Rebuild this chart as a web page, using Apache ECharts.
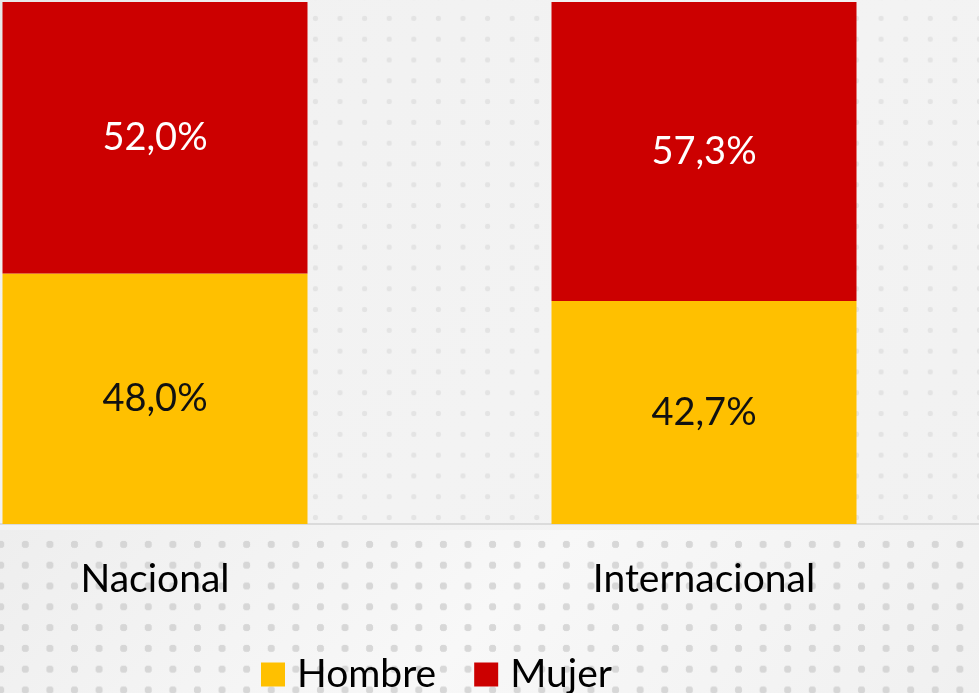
<!DOCTYPE html>
<html>
<head>
<meta charset="utf-8">
<script src="https://cdn.jsdelivr.net/npm/echarts@6/dist/echarts.min.js"></script>
<style>
  html, body { margin: 0; padding: 0; }
  body {
    width: 979px; height: 693px; overflow: hidden; position: relative;
    background-color: #f1f1f1;
  }
  #bg1 {
    position: absolute; left: 0; top: 0; width: 979px; height: 530px;
    background-image: radial-gradient(circle, rgba(200,200,200,0.35) 2.5px, rgba(0,0,0,0) 3px),
      linear-gradient(135deg, rgba(230,230,230,0.9) 0%, rgba(242,242,242,0.6) 20%, rgba(246,246,246,0.4) 60%, rgba(242,242,242,0.5) 100%);
    background-size: 24.6px 20.8px, 100% 100%;
    background-position: 8px 8px, 0 0;
  }
  #bg2 {
    position: absolute; left: 0; top: 530px; width: 979px; height: 163px;
    background-image: radial-gradient(circle, rgba(205,205,205,0.75) 3.5px, rgba(0,0,0,0) 4px),
      linear-gradient(135deg, rgba(238,238,238,1) 0%, rgba(248,248,248,1) 50%, rgba(240,240,240,1) 100%);
    background-size: 24.6px 20.8px, 100% 100%;
    background-position: 13px 4px, 0 0;
  }
  #chart { position: absolute; left: 0; top: 0; width: 979px; height: 693px; }
</style>
</head>
<body>
<div id="bg1"></div>
<div id="bg2"></div>
<div id="chart"></div>
<script>
const categories = ['Nacional', 'Internacional'];
const seriesNames = ['Hombre', 'Mujer'];
const hombre = [48.0, 42.7];
const mujer = [52.0, 57.3];

const fmt = p => p.value.toFixed(1).replace('.', ',') + '%';
const FONT = 'Lato';

const chart = echarts.init(document.getElementById('chart'), null, { renderer: 'canvas' });
chart.setOption({
  backgroundColor: 'transparent',
  animation: false,
  grid: { left: -119.5, width: 1098, top: 2, bottom: 169, containLabel: false, outerBoundsMode: 'none' },
  xAxis: {
    type: 'category',
    data: categories,
    axisLine: { show: true, lineStyle: { color: '#d4d4d4', width: 1.5 } },
    axisTick: { show: false },
    axisLabel: { color: '#000', fontSize: 39, fontFamily: FONT, margin: 36, lineHeight: 39 }
  },
  yAxis: {
    type: 'value', min: 0, max: 100, show: false,
    splitLine: { show: false }
  },
  legend: {
    data: seriesNames,
    left: 261, top: 655, padding: 0,
    itemWidth: 24, itemHeight: 24, itemGap: 38,
    icon: 'rect',
    textStyle: { color: '#000', fontSize: 39, fontFamily: FONT, padding: [0, 0, 0, 7] }
  },
  series: [
    {
      name: seriesNames[0], type: 'bar', stack: 'total', data: hombre,
      barWidth: 305,
      itemStyle: { color: '#FFC000' },
      label: { show: true, position: 'inside', color: '#111', fontSize: 38, fontFamily: FONT, formatter: fmt }
    },
    {
      name: seriesNames[1], type: 'bar', stack: 'total', data: mujer,
      barWidth: 305,
      itemStyle: { color: '#CC0000' },
      label: { show: true, position: 'inside', color: '#fff', fontSize: 38, fontFamily: FONT, formatter: fmt }
    }
  ]
});
</script>
</body>
</html>
